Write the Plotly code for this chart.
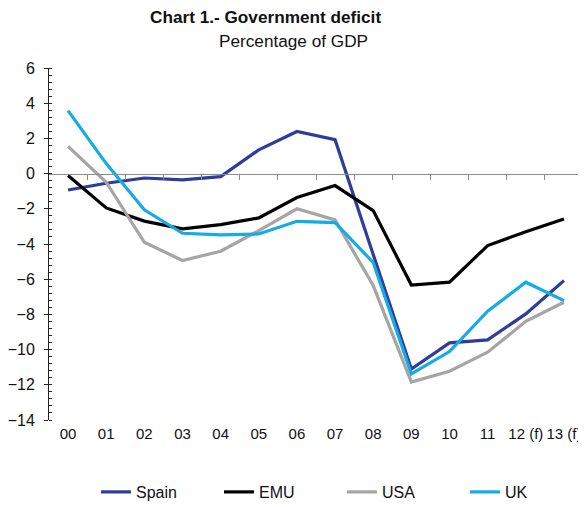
import plotly.graph_objects as go

years = ["00", "01", "02", "03", "04", "05", "06", "07", "08", "09", "10", "11", "12 (f)", "13 (f)"]
spain = [-0.93, -0.55, -0.25, -0.36, -0.17, 1.35, 2.39, 1.93, -4.6, -11.1, -9.62, -9.45, -7.97, -6.08]
emu = [-0.11, -1.95, -2.7, -3.14, -2.9, -2.52, -1.36, -0.68, -2.1, -6.33, -6.17, -4.09, -3.3, -2.58]
usa = [1.55, -0.49, -3.9, -4.94, -4.41, -3.24, -2.0, -2.63, -6.36, -11.85, -11.23, -10.15, -8.39, -7.31]
uk = [3.58, 0.57, -2.06, -3.39, -3.48, -3.43, -2.71, -2.78, -5.05, -11.38, -10.11, -7.82, -6.17, -7.22]
y_ticks = [6, 4, 2, 0, -2, -4, -6, -8, -10, -12, -14]

series = [("Spain", spain, "#2F3C99"), ("EMU", emu, "#000000"),
          ("USA", usa, "#A5A5A5"), ("UK", uk, "#14ACE3")]

fig = go.Figure()
for name, vals, col in series:
    fig.add_trace(go.Scatter(x=list(range(len(years))), y=vals, name=name, mode="lines",
                             line=dict(color=col, width=3.2)))

font = "Liberation Sans, Arial, sans-serif"
OFF = 8  # default page body margin
W, H = 586 - OFF, 507 - OFF
R = 3
plot_left, plot_top, plot_bot = 49 - OFF, 68 - OFF, 420 - OFF
plot_w = W - plot_left - R

def ypaper(px):
    return (plot_bot - (px - OFF)) / (plot_bot - plot_top)

def xpaper(px):
    return ((px - OFF) - plot_left) / plot_w

fig.update_layout(
    width=W, height=H,
    margin=dict(l=plot_left, r=R, t=plot_top, b=H - plot_bot, autoexpand=False),
    plot_bgcolor="white", paper_bgcolor="white",
    font=dict(family=font, size=16, color="#111111"),
    showlegend=True,
    legend=dict(orientation="h", xref="container", yref="container",
                x=(96 - OFF) / W, y=1 - (492 - OFF) / H, xanchor="left", yanchor="middle",
                entrywidth=78, entrywidthmode="pixels",
                font=dict(size=16)),
    xaxis=dict(range=[-0.5, len(years) - 0.5], tickmode="array",
               tickvals=list(range(len(years))), ticktext=years,
               showline=False, showgrid=False, zeroline=False, ticks="", automargin=False,
               ticklabelstandoff=3, tickfont=dict(size=15)),
    xaxis2=dict(overlaying="x", anchor="free", position=14 / 20,
                range=[-0.5, len(years) - 0.5], tickmode="array",
                tickvals=[i + 0.5 for i in range(len(years))],
                showticklabels=False, showline=True, linecolor="#8C8C8C", linewidth=1,
                ticks="outside", ticklen=5, tickcolor="#8C8C8C", showgrid=False, zeroline=False),
    yaxis=dict(range=[-14, 6], tickvals=y_ticks, showgrid=False, zeroline=False,
               showline=True, linecolor="#222222", linewidth=1, automargin=False,
               ticks="outside", ticklen=4, tickcolor="#222222", ticklabelstandoff=6,
               minor=dict(dtick=0.4, ticks="inside", ticklen=3, tickcolor="#222222")),
    annotations=[
        dict(text="<b>Chart 1.- Government deficit</b>", xref="paper", yref="paper",
             x=xpaper(265.5), y=ypaper(17), xanchor="center", yanchor="middle",
             showarrow=False, font=dict(size=17.2, family=font, color="#111111")),
        dict(text="Percentage of GDP", xref="paper", yref="paper",
             x=xpaper(293.5), y=ypaper(41), xanchor="center", yanchor="middle",
             showarrow=False, font=dict(size=17.2, family=font, color="#111111")),
    ],
)
# invisible trace to activate xaxis2
fig.add_trace(go.Scatter(x=[0], y=[0], xaxis="x2", mode="markers", marker=dict(opacity=0),
                         showlegend=False, hoverinfo="skip"))
fig.write_html("out.html")
